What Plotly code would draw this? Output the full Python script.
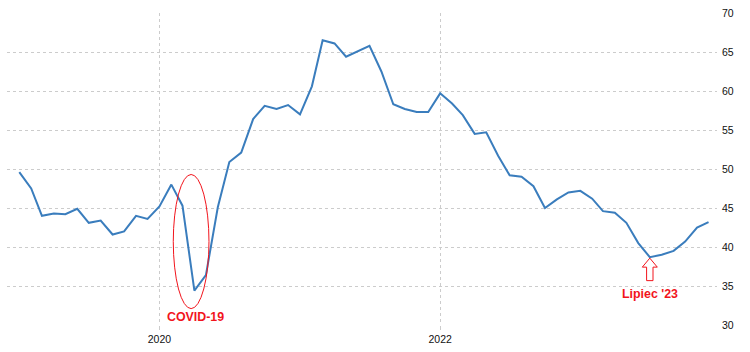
import plotly.graph_objects as go
import pandas as pd

# Monthly values, Jan 2019 - Dec 2023
v2019 = [49.6, 47.5, 44.0, 44.3, 44.2, 44.9, 43.1, 43.4, 41.6, 42.0, 44.0, 43.6]
v2020 = [45.2, 48.0, 45.3, 34.4, 36.4, 45.1, 50.9, 52.1, 56.4, 58.1, 57.7, 58.2]
v2021 = [57.0, 60.6, 66.5, 66.1, 64.4, 65.1, 65.8, 62.5, 58.3, 57.7, 57.3, 57.3]
v2022 = [59.7, 58.4, 56.9, 54.5, 54.7, 51.7, 49.2, 49.0, 47.8, 45.0, 46.1, 47.0]
v2023 = [47.2, 46.2, 44.6, 44.4, 43.1, 40.5, 38.7, 39.0, 39.5, 40.7, 42.5, 43.2]
values = v2019 + v2020 + v2021 + v2022 + v2023
dates = pd.date_range("2019-01-01", periods=len(values), freq="MS")

y_ticks = [30, 35, 40, 45, 50, 55, 60, 65, 70]
covid_label = "COVID-19"
low_label = "Lipiec '23"
low_date = "2023-07-01"
low_value = v2023[6]

red = "#f2141c"
line_color = "#3a7dbd"
grid_color = "#cccccc"

fig = go.Figure()
fig.add_trace(go.Scatter(x=dates, y=values, mode="lines",
                         line=dict(color=line_color, width=2),
                         hoverinfo="skip", showlegend=False))

# ellipse around COVID dip
fig.add_shape(type="circle", xref="x", yref="y",
              x0="2020-02-06", x1="2020-05-09", y0=32.1, y1=49.3,
              line=dict(color=red, width=1), fillcolor="rgba(0,0,0,0)")

# hollow up arrow under the July 2023 low
fig.add_shape(type="path", xref="x", yref="y",
              xsizemode="pixel", ysizemode="pixel",
              xanchor=low_date, yanchor=low_value,
              path="M 0,-1 L 7.5,-10 L 3.2,-10 L 3.2,-23.5 L -3.2,-23.5 L -3.2,-10 L -7.5,-10 Z",
              line=dict(color=red, width=1), fillcolor="white")

fig.add_annotation(x="2020-04-03", y=31.08, text=covid_label, showarrow=False,
                   xanchor="center", yanchor="middle",
                   font=dict(family="Liberation Sans", size=12.4, color=red, weight="bold"))
fig.add_annotation(x=low_date, y=34.0, text=low_label, showarrow=False,
                   xanchor="center", yanchor="middle",
                   font=dict(family="Liberation Sans", size=12.4, color=red, weight="bold"))

fig.update_layout(
    width=750, height=352,
    margin=dict(l=7, r=33, t=10, b=27),
    paper_bgcolor="white", plot_bgcolor="white",
    font=dict(family="Liberation Sans", size=10.5, color="#111111"),
    xaxis=dict(range=["2018-11-30", "2023-12-23"], tick0="2020-01-01", dtick="M24",
               tickformat="%Y", showgrid=True, gridcolor=grid_color, griddash="dot",
               gridwidth=1, zeroline=False, showline=False,
               ticks="outside", ticklen=4, tickcolor=grid_color, tickwidth=1,
               ticklabelstandoff=0),
    yaxis=dict(range=[30, 70], side="right", tickvals=y_ticks, showgrid=True,
               gridcolor=grid_color, griddash="dot", gridwidth=1, zeroline=False,
               showline=False, ticks="", ticklabelstandoff=4),
)

fig.write_html("out.html")
